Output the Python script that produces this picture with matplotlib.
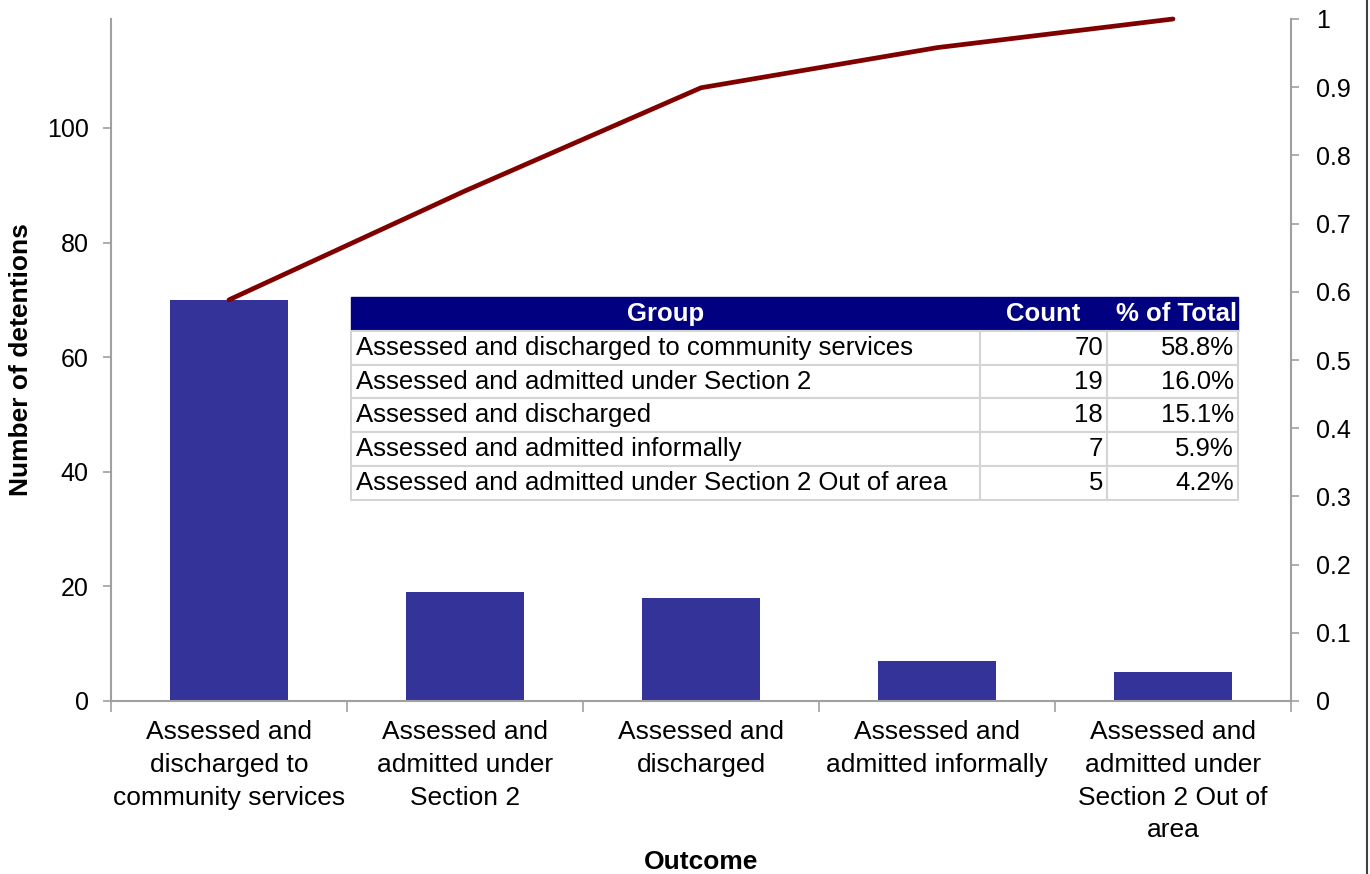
import numpy as np
import matplotlib
matplotlib.use("Agg")
import matplotlib.pyplot as plt
from matplotlib.lines import Line2D

plt.rcParams['font.family'] = ['Liberation Sans', 'DejaVu Sans']

# data
groups = ["Assessed and discharged to community services",
          "Assessed and admitted under Section 2",
          "Assessed and discharged",
          "Assessed and admitted informally",
          "Assessed and admitted under Section 2 Out of area"]
cat_labels = ["Assessed and\ndischarged to\ncommunity services",
              "Assessed and\nadmitted under\nSection 2",
              "Assessed and\ndischarged",
              "Assessed and\nadmitted informally",
              "Assessed and\nadmitted under\nSection 2 Out of\narea"]
counts = np.array([70, 19, 18, 7, 5])
total = counts.sum()
cum_share = np.cumsum(counts) / total
pct_labels = ["%.1f%%" % (100.0 * c / total) for c in counts]

grey = '#A0A0A0'
fig = plt.figure(figsize=(13.7, 8.74), dpi=100)
ax = fig.add_axes([111/1370, 1 - 701/874, 1180/1370, 682/874])

x = np.arange(len(counts))
ax.bar(x, counts, width=0.5, color='#333399', zorder=2)
ax.set_xlim(-0.5, len(counts) - 0.5)
ax.set_ylim(0, total)
ax.set_yticks(np.arange(0, 101, 20))
ax.set_xticks(x)
ax.set_xticklabels(cat_labels, fontsize=19, linespacing=1.45)
ax.set_xticks(np.arange(-0.5, len(counts), 1), minor=True)
ax.tick_params(axis='x', which='major', length=0, pad=14)
ax.tick_params(axis='x', which='minor', length=8, width=1.2, color=grey, direction='out')
ax.tick_params(axis='y', length=6, width=1.2, color=grey, labelsize=18, pad=10)
for s in ['top', 'right']:
    ax.spines[s].set_visible(False)
for s in ['left', 'bottom']:
    ax.spines[s].set_color(grey)
    ax.spines[s].set_linewidth(1.5)

ax.set_ylabel("Number of detentions", fontsize=19, fontweight='bold', labelpad=10)
ax.set_xlabel("Outcome", fontsize=19, fontweight='bold')
ax.xaxis.set_label_coords(0.5, (701 - 850) / 682)

ax2 = ax.twinx()
ax2.plot(x, cum_share, color='#800000', lw=3.4, solid_capstyle='round', clip_on=False, zorder=3)
ax2.set_ylim(0, 1)
ax2.set_yticks(np.linspace(0, 1, 11))
ax2.set_yticklabels(['0', '0.1', '0.2', '0.3', '0.4', '0.5', '0.6', '0.7', '0.8', '0.9', '1'])
ax2.tick_params(axis='y', length=6, width=1.2, color=grey, labelsize=18, pad=12)
for s in ['top', 'left', 'bottom']:
    ax2.spines[s].set_visible(False)
ax2.spines['right'].set_color(grey)
ax2.spines['right'].set_linewidth(1.5)

# summary table
cell_text = [[g, str(c), p] for g, c, p in zip(groups, counts, pct_labels)]
tb = ax2.table(cellText=cell_text, colLabels=["Group", "Count", "% of Total"],
               colWidths=[0.709, 0.143, 0.148],
               bbox=[0.2034, 0.2947, 0.7517, 0.2977], zorder=5)
tb.auto_set_font_size(False)
tb.set_fontsize(18.5)
for (r, c), cell in tb.get_celld().items():
    if r == 0:
        cell.set_facecolor('#000080')
        cell.set_edgecolor('#000080')
        cell.set_text_props(color='white', fontweight='bold',
                            ha='center' if c < 2 else 'right')
        cell.PAD = 0.01
    else:
        cell.set_facecolor('white')
        cell.set_edgecolor('#D4D4D4')
        cell.set_linewidth(1.5)
        cell.set_text_props(ha='left' if c == 0 else 'right')
        cell.PAD = 0.008 if c == 0 else 0.03

fig.add_artist(Line2D([0.9975, 0.9975], [0, 1], color='#404040', lw=1.5))

fig.savefig("out.png", dpi=100)
